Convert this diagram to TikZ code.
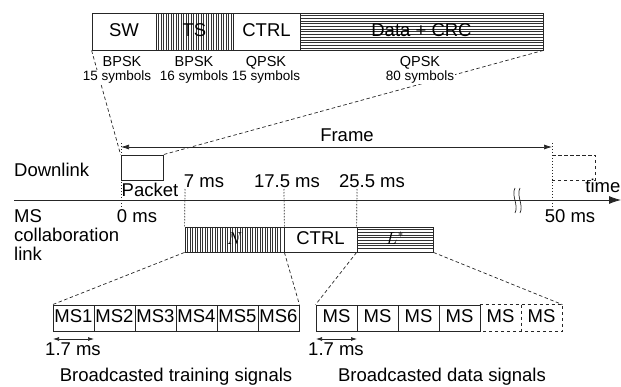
\documentclass[tikz,border=0pt]{standalone}
\usepackage{fontspec}
\setmainfont{Liberation Sans}
\usetikzlibrary{arrows.meta}
\begin{document}
\begin{tikzpicture}[x=1pt,y=-1pt,
  ln/.style={draw=black!85, line width=0.8pt},
  hatch/.style={draw=black!80, line width=0.45pt},
  dsh/.style={draw=black!85, line width=0.7pt, dash pattern=on 3.5pt off 2.5pt},
  dotl/.style={draw=black!85, line width=0.7pt, dash pattern=on 1.5pt off 1.5pt},
  lbl/.style={font=\fontsize{18.5}{20}\selectfont, inner sep=0pt, text height=13pt, text depth=3.5pt},
  sml/.style={font=\fontsize{13.5}{15}\selectfont, inner sep=0.8pt, fill=white, text height=10pt, text depth=2.7pt},
  mod/.style={font=\fontsize{14.5}{16}\selectfont, inner sep=0.8pt, fill=white, text height=10.5pt, text depth=1pt},
  box/.style={draw=black!85, line width=0.8pt, inner sep=0pt, font=\fontsize{18.5}{20}\selectfont, text height=13pt, text depth=3.5pt}
]
\useasboundingbox (0,0) rectangle (621,387);

% ---------- top bar ----------
\foreach \x in {158.5,161,...,231} \draw[hatch] (\x,13) -- (\x,50);
\foreach \y in {15.5,18.2,...,48.5} \draw[hatch] (300,\y) -- (543,\y);
\node[box, minimum width=64pt, minimum height=37pt] (sw) at (124,31.5) {SW};
\node[box, minimum width=77pt, minimum height=37pt] (ts) at (194.5,31.5) {TS};
\node[box, minimum width=67pt, minimum height=37pt] (ctrl) at (266.5,31.5) {CTRL};
\node[box, minimum width=243pt, minimum height=37pt] (data) at (421.5,31.5) {Data + CRC};

% packet and zoom lines
\node[box, minimum width=42pt, minimum height=25pt] (pkt) at (142,167.5) {};
\draw[dsh] (sw.south west) -- (pkt.north west);
\draw[dsh] (data.south east) -- (pkt.north east);

\node[mod] (m1) at (122,62) {BPSK};
\node[sml] (s1) at (117,77) {15 symbols};
\node[mod] (m2) at (194,62) {BPSK};
\node[sml] (s2) at (194,77) {16 symbols};
\node[mod] (m3) at (266,62) {QPSK};
\node[sml] (s3) at (266,77) {15 symbols};
\node[mod] (m4) at (420,62) {QPSK};
\node[sml] (s4) at (420,77) {80 symbols};

% ---------- frame ----------
\coordinate (f0) at (121,147);
\coordinate (f1) at (552,147);
\draw[ln, line width=0.7pt, {Latex[length=8pt,width=5pt]}-{Latex[length=8pt,width=5pt]}] (f0) -- (f1);
\node[lbl] (frame) at (347,137) {Frame};

\coordinate (z0a) at (121,143);
\coordinate (z0b) at (121,207);
\draw[dotl] (z0a) -- (z0b);
\coordinate (z50a) at (552,143);
\coordinate (z50b) at (552,208);
\draw[dotl] (z50a) -- (z50b);
\coordinate (nb1) at (552,155);
\coordinate (nb2) at (595,155);
\coordinate (nb3) at (595,180);
\coordinate (nb4) at (552,180);
\draw[dsh] (nb1) -- (nb2) -- (nb3) -- (nb4);

\node[lbl, anchor=west] (down) at (14,172) {Downlink};
\node[lbl] (packet) at (150,192) {Packet};

% ---------- axis ----------
\coordinate (ax0) at (14,200);
\coordinate (ax1) at (621,200);
\draw[ln, -{Latex[length=12pt,width=8pt]}] (ax0) -- (ax1);
\draw[ln, line width=0.7pt] (515,188) .. controls (511,196) and (519,205) .. (515,213);
\draw[ln, line width=0.7pt] (520,188) .. controls (516,196) and (524,205) .. (520,213);
\node[lbl, anchor=east] (time) at (620.5,188) {time};

\node[lbl] (l0) at (137,218) {0 ms};
\node[lbl] (l50) at (570,218) {50 ms};
\node[lbl] (l7) at (204,183) {7 ms};
\node[lbl] (l17) at (287,183) {17.5 ms};
\node[lbl] (l25) at (372,183) {25.5 ms};

\node[lbl, anchor=west] (ms) at (14,218) {MS};
\node[lbl, anchor=west] (coll) at (14,237) {collaboration};
\node[lbl, anchor=west] (link) at (14,255.5) {link};

% ---------- collaboration link ----------
\foreach \x in {187.5,190,...,282} \draw[hatch] (\x,227) -- (\x,252);
\foreach \y in {229.5,232.2,...,250.5} \draw[hatch] (357,\y) -- (433,\y);
\node[box, minimum width=99pt, minimum height=25pt] (nbox) at (234.5,239.5) {$N$};
\node[box, minimum width=73pt, minimum height=25pt] (cbox) at (320.5,239.5) {CTRL};
\node[box, minimum width=76pt, minimum height=25pt] (lbox) at (395,239.5) {$L^*$};

\coordinate (t7) at (185,189);
\coordinate (t17) at (284,189);
\coordinate (t25) at (357,189);
\draw[dotl] (t7) -- (nbox.north west);
\draw[dotl] (t17) -- (nbox.north east);
\draw[dotl] (t25) -- (lbox.north west);

% ---------- broadcast rows ----------
\foreach \i in {1,...,6} {
  \node[box, minimum width=41pt, minimum height=26pt] (tr\i) at ({53+41*(\i-0.5)},318) {MS\i};
}
\foreach \i in {1,...,4} {
  \node[box, minimum width=41pt, minimum height=26pt] (dt\i) at ({316+41*(\i-0.5)},318) {MS};
}
\foreach \i in {5,6} {
  \node[box, draw=none, minimum width=41pt, minimum height=26pt] (dt\i) at ({316+41*(\i-0.5)},318) {MS};
}
\draw[dsh] (dt5.north west) -- (dt6.north east) -- (dt6.south east) -- (dt5.south west);
\draw[dsh] (dt5.north east) -- (dt5.south east);

\draw[dsh] (nbox.south west) -- (tr1.north west);
\draw[dsh] (nbox.south east) -- (tr6.north east);
\draw[dsh] (lbox.south west) -- (dt1.north west);
\draw[dsh] (lbox.south east) -- (dt6.north east);

\coordinate (a1) at (53,339);
\coordinate (a2) at (94,339);
\coordinate (b1) at (316,339);
\coordinate (b2) at (357,339);
\draw[ln, line width=0.7pt, {Latex[length=6pt,width=4pt]}-{Latex[length=6pt,width=4pt]}] (a1) -- (a2);
\draw[ln, line width=0.7pt, {Latex[length=6pt,width=4pt]}-{Latex[length=6pt,width=4pt]}] (b1) -- (b2);
\node[lbl] (d1) at (73,351) {1.7 ms};
\node[lbl] (d2) at (336,351) {1.7 ms};

\node[lbl] (bt) at (176,377) {Broadcasted training signals};
\node[lbl] (bd) at (442,377) {Broadcasted data signals};
\end{tikzpicture}
\end{document}
